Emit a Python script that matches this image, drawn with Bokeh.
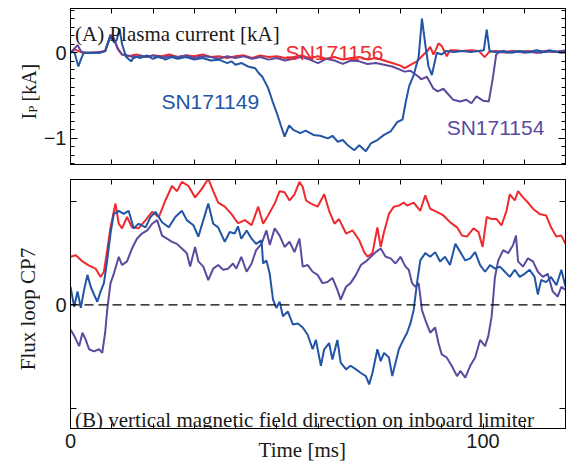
from bokeh.plotting import figure
from bokeh.layouts import column, row
from bokeh.models import Range1d, LinearAxis, FixedTicker, Label, Span
from bokeh.embed import file_html
from bokeh.resources import INLINE

# ---------------- data: (A) plasma current [kA] ----------------
ip_156_t = [0, 1, 2, 3, 5, 7, 8.4, 9.7, 10.5, 11.5, 12.5, 14, 16, 18, 20, 22, 24, 26, 28, 30,
            32, 34, 36, 38, 40, 42, 44, 46, 48, 50, 52, 54, 56, 58, 60, 62, 64, 66, 68, 70,
            72, 74, 76, 78, 80, 81, 82.4, 84, 85.6, 86.5, 87.2, 88, 88.6, 89.2, 90, 91.2, 92,
            93, 95, 97, 99, 100.4, 101.5, 103, 105, 107, 109, 111, 113, 115, 117, 119, 120]
ip_156 = [0.0, 0.04, 0.02, 0.0, 0.0, 0.01, 0.02, 0.21, 0.17, 0.05, -0.02, -0.04, -0.02, -0.05,
          -0.03, -0.04, -0.02, -0.05, -0.03, -0.04, -0.02, -0.05, -0.04, -0.06, -0.04, -0.03,
          -0.06, -0.03, -0.05, -0.04, -0.06, -0.05, -0.03, -0.06, -0.04, -0.07, -0.05, -0.08,
          -0.06, -0.05, -0.08, -0.06, -0.09, -0.12, -0.15, -0.18, -0.14, -0.10, -0.02, 0.02,
          0.07, -0.02, 0.04, 0.11, 0.08, -0.04, 0.03, 0.03, 0.02, 0.03, 0.02, -0.05, 0.01,
          0.02, 0.01, 0.02, 0.01, 0.02, 0.0, 0.02, 0.01, 0.02, 0.0]

ip_149_t = [0, 1, 1.9, 2.5, 3.2, 5, 7, 8.4, 9.7, 10.6, 11.2, 11.9, 12.5, 13.5, 14.7, 15.5, 17,
            18.5, 20, 21.5, 23, 24.5, 26, 28, 30, 32, 34, 36, 38, 39, 40, 41.5, 43, 44.8, 45.5,
            46.5, 47.9, 49, 50.2, 51, 51.9, 53, 54, 55.7, 57, 58.9, 60.5, 62.4, 63.5, 64.8, 66,
            67.2, 68.8, 70, 71.6, 72.8, 74.4, 76, 77.6, 79.2, 80.5, 81.3, 82.1, 83.2, 84.4,
            85.2, 86, 86.8, 87.6, 88.8, 90, 91, 93, 95, 97, 99, 100.2, 100.9, 101.6, 103, 105,
            107, 109, 111, 113, 115, 117, 119, 120]
ip_149 = [0.02, 0.0, -0.16, -0.08, 0.0, 0.0, 0.0, 0.02, 0.19, 0.12, 0.15, 0.28, 0.1, -0.05,
          -0.1, -0.04, -0.06, -0.03, -0.07, -0.04, -0.08, -0.05, -0.07, -0.05, -0.08, -0.06,
          -0.09, -0.08, -0.12, -0.1, -0.14, -0.12, -0.16, -0.18, -0.23, -0.28, -0.41, -0.57,
          -0.73, -0.85, -0.98, -0.85, -0.9, -0.94, -0.91, -0.96, -0.97, -1.0, -0.97, -1.04,
          -1.02, -1.08, -1.14, -1.08, -1.15, -1.06, -1.02, -0.96, -0.92, -0.81, -0.78, -0.57,
          -0.39, -0.26, -0.05, 0.40, 0.1, -0.16, -0.26, 0.0, -0.02, 0.02, 0.01, 0.02, 0.01,
          0.02, 0.03, 0.27, 0.02, 0.01, 0.02, 0.0, 0.02, 0.01, 0.03, 0.01, 0.02, 0.0, 0.01]

ip_154_t = [0, 1.7, 2.5, 3.5, 5, 7, 8.4, 9.7, 10.5, 11.5, 12.5, 14, 15.5, 17, 18.5, 20, 22, 24,
            26, 28, 30, 32, 34, 36, 38, 40, 42, 44, 46, 48, 50, 52, 54, 56, 58, 60, 62, 64, 66,
            68, 70, 72, 74, 76, 78, 80, 81, 82.4, 84.4, 85, 86.4, 88, 89, 90.4, 91.3, 92.8, 94.4,
            96, 97.2, 98.4, 100, 101.4, 102.4, 103.2, 104, 106, 108, 110, 112, 114, 116, 118, 120]
ip_154 = [0.0, 0.09, 0.02, 0.0, 0.0, 0.0, 0.02, 0.21, 0.16, 0.04, -0.02, -0.03, -0.06, -0.03,
          -0.05, -0.03, -0.06, -0.04, -0.05, -0.03, -0.06, -0.04, -0.05, -0.07, -0.04, -0.06,
          -0.04, -0.07, -0.05, -0.08, -0.06, -0.09, -0.07, -0.05, -0.08, -0.12, -0.07, -0.09,
          -0.13, -0.09, -0.1, -0.13, -0.12, -0.14, -0.16, -0.2, -0.22, -0.21, -0.28, -0.31,
          -0.28, -0.42, -0.45, -0.42, -0.47, -0.55, -0.57, -0.55, -0.59, -0.51, -0.56, -0.57,
          -0.29, -0.02, 0.01, 0.0, 0.02, 0.0, 0.01, 0.0, 0.03, 0.01, 0.03]

# ---------------- data: (B) flux loop CP7 ----------------
fl_156_t = [0, 1.3, 2.9, 4.5, 6.1, 7.3, 8.1, 8.9, 9.7, 10.9, 11.7, 12.5, 13.7, 14.9, 16.5, 18.2,
            19.8, 21.4, 23.0, 24.6, 25.8, 27.0, 28.6, 30.2, 31.8, 33.4, 34.6, 35.8, 37.4, 39.0,
            40.6, 42.3, 43.9, 45.5, 46.7, 47.9, 49.5, 50.7, 51.9, 53.1, 54.3, 55.5, 56.3, 57.1,
            58.3, 59.9, 61.5, 62.7, 64.0, 65.1, 66.8, 68.4, 70.0, 71.2, 72.0, 73.2, 74.4, 75.2,
            76.0, 77.2, 78.4, 79.6, 80.8, 81.6, 83.2, 84.8, 86.0, 87.2, 88.8, 90.4, 92.0, 93.7,
            94.9, 96.1, 97.7, 98.9, 99.9, 100.9, 102.1, 103.3, 104.5, 105.7, 106.5, 107.7,
            108.5, 109.7, 110.9, 112.1, 113.7, 115.3, 116.5, 117.8, 119.0, 120.0]
fl_156 = [0.465, 0.48, 0.42, 0.38, 0.35, 0.27, 0.32, 0.53, 0.75, 0.98, 0.785, 0.74, 0.85, 0.75,
          0.74, 0.82, 0.90, 0.85, 1.01, 1.15, 1.10, 1.19, 1.15, 1.04, 1.12, 1.22, 1.10, 0.99,
          0.95, 0.88, 0.79, 0.82, 0.77, 0.95, 0.785, 0.865, 0.98, 1.10, 1.09, 1.01, 1.07, 1.19,
          1.14, 1.01, 0.98, 0.95, 1.07, 0.91, 0.785, 0.83, 0.69, 0.72, 0.625, 0.51, 0.465,
          0.50, 0.75, 0.56, 0.705, 0.88, 0.95, 0.96, 0.99, 0.96, 0.99, 0.91, 1.06, 0.93, 0.90,
          0.865, 0.80, 0.75, 0.67, 0.66, 0.74, 0.705, 0.56, 0.85, 0.83, 0.83, 0.77, 0.91, 1.07,
          1.01, 1.10, 1.04, 0.99, 0.93, 0.88, 0.865, 0.75, 0.66, 0.67, 0.59]

fl_149_t = [0, 0.9, 1.7, 2.5, 3.3, 4.1, 4.9, 5.7, 6.5, 7.3, 8.1, 8.9, 9.7, 10.5, 11.7, 12.9,
            14.1, 15.3, 16.5, 18.2, 19.4, 20.6, 22.2, 23.8, 25.4, 27.0, 28.2, 29.8, 31.0, 32.2,
            33.4, 34.6, 35.8, 37.4, 38.6, 39.8, 40.6, 41.4, 42.7, 43.9, 45.0, 46.3, 46.7, 47.5,
            48.3, 49.1, 49.9, 50.7, 51.5, 52.7, 53.9, 55.1, 56.3, 57.5, 58.7, 59.5, 60.7, 61.5,
            62.7, 63.5, 64.7, 65.5, 66.8, 67.9, 69.2, 70.4, 71.6, 72.4, 73.2, 74.4, 75.2, 76.0,
            77.2, 78.0, 78.8, 79.6, 80.8, 81.6, 82.4, 83.2, 84.0, 84.8, 86.0, 87.2, 88.4, 89.6,
            90.8, 92.0, 93.3, 94.5, 95.7, 96.9, 98.1, 99.3, 100.5, 101.7, 102.9, 104.1, 105.3,
            106.5, 107.7, 108.9, 110.1, 111.3, 112.5, 113.3, 114.1, 115.3, 116.5, 117.8, 119.0,
            120.0]
fl_149 = [0.175, -0.02, 0.13, -0.03, 0.145, 0.29, 0.175, 0.10, 0.03, 0.13, 0.21, 0.43, 0.69,
          0.88, 0.91, 0.88, 0.91, 0.74, 0.785, 0.75, 0.85, 0.90, 0.80, 0.75, 0.85, 0.91, 0.82,
          0.77, 0.66, 0.82, 0.98, 0.785, 0.75, 0.61, 0.705, 0.69, 0.76, 0.64, 0.72, 0.64, 0.59,
          0.625, 0.40, 0.43, 0.30, 0.05, -0.03, 0.03, -0.11, -0.065, -0.19, -0.18, -0.22,
          -0.29, -0.43, -0.34, -0.59, -0.43, -0.37, -0.53, -0.34, -0.56, -0.625, -0.59, -0.625,
          -0.66, -0.69, -0.77, -0.66, -0.43, -0.545, -0.465, -0.51, -0.69, -0.56, -0.43, -0.33,
          -0.27, -0.18, -0.05, 0.21, 0.43, 0.50, 0.465, 0.51, 0.42, 0.465, 0.385, 0.59, 0.51,
          0.43, 0.45, 0.51, 0.385, 0.32, 0.385, 0.35, 0.37, 0.32, 0.27, 0.34, 0.27, 0.30, 0.34,
          0.27, 0.10, 0.24, 0.22, 0.27, 0.19, 0.34, 0.175]

fl_154_t = [0, 0.9, 2.1, 2.9, 3.7, 4.5, 5.7, 6.9, 7.7, 8.4, 8.9, 9.7, 10.5, 11.7, 12.5, 13.7,
            14.9, 16.1, 17.3, 18.6, 19.8, 21.0, 22.2, 23.4, 24.6, 25.8, 27.0, 28.2, 29.0, 30.2,
            31.0, 32.2, 33.4, 34.6, 35.8, 37.0, 38.2, 39.4, 40.2, 41.4, 42.7, 43.9, 45.0, 46.3,
            47.5, 48.3, 49.5, 50.7, 51.9, 53.1, 54.3, 55.5, 56.3, 57.5, 58.7, 59.9, 61.1, 62.3,
            63.5, 64.7, 65.5, 66.8, 67.9, 69.2, 70.4, 71.6, 72.8, 74.0, 75.2, 76.4, 77.6, 78.8,
            80.0, 81.2, 82.0, 82.8, 83.6, 84.4, 85.2, 86.0, 87.2, 88.4, 89.2, 90.0, 91.2, 92.4,
            93.7, 94.5, 95.7, 96.9, 98.1, 99.3, 100.5, 101.3, 102.1, 102.9, 103.7, 104.9, 106.1,
            107.3, 108.0, 108.5, 109.7, 110.9, 112.1, 113.3, 114.5, 115.7, 116.9, 118.1, 119.0,
            120.0]
fl_154 = [-0.24, -0.30, -0.40, -0.27, -0.34, -0.43, -0.45, -0.43, -0.465, -0.27, -0.05, 0.21,
          0.30, 0.465, 0.385, 0.42, 0.545, 0.64, 0.69, 0.72, 0.785, 0.82, 0.67, 0.64, 0.61, 0.59,
          0.545, 0.50, 0.37, 0.56, 0.42, 0.37, 0.24, 0.35, 0.385, 0.34, 0.35, 0.40, 0.35, 0.465,
          0.32, 0.40, 0.53, 0.59, 0.72, 0.58, 0.74, 0.67, 0.56, 0.61, 0.51, 0.64, 0.37, 0.385,
          0.32, 0.29, 0.21, 0.22, 0.26, 0.145, 0.05, 0.175, 0.21, 0.29, 0.385, 0.42, 0.465, 0.51,
          0.545, 0.465, 0.45, 0.40, 0.465, 0.37, 0.34, 0.21, 0.175, 0.21, -0.05, -0.145, -0.27,
          -0.22, -0.37, -0.48, -0.51, -0.59, -0.69, -0.64, -0.705, -0.59, -0.51, -0.34, -0.40,
          -0.30, -0.11, 0.27, 0.43, 0.53, 0.50, 0.58, 0.67, 0.42, 0.37, 0.45, 0.42, 0.32, 0.27,
          0.30, 0.13, 0.08, 0.175, 0.145]

x_ticks = list(range(0, 121, 10))
x_tick_labels = {0: "0", 100: "100"}
ip_ticks = [-1, 0]
ip_tick_labels = {-1: "\u22121", 0: "0"}
fl_ticks = [-1, 0, 1]
fl_tick_labels = {0: "0"}

RED = "#ee2a2e"
BLUE = "#2255a6"
PURPLE = "#5c4a9f"
INK = "#1a1a1a"
SERIF = "Liberation Serif"
SANS = "Liberation Sans"
LW = 2.0

STRIP_W = 40
MAIN_W = 526


def make_fig(height, yr, bt, bb):
    p = figure(width=MAIN_W, height=height, x_range=Range1d(0, 120), y_range=Range1d(*yr),
               output_backend="svg", toolbar_location=None,
               x_axis_location=None, y_axis_location=None,
               min_border_left=28, min_border_right=1, min_border_top=bt, min_border_bottom=bb)
    p.grid.visible = False
    p.outline_line_color = "black"
    p.outline_line_width = 1
    p.background_fill_color = "white"
    p.border_fill_color = "white"
    return p


def add_axis(p, place, ticks, minor, labels, tick_len, minor_len):
    ax = LinearAxis(ticker=FixedTicker(ticks=ticks, minor_ticks=minor))
    ax.major_tick_in = tick_len
    ax.major_tick_out = 0
    ax.minor_tick_in = minor_len
    ax.minor_tick_out = 0
    ax.axis_line_color = "black"
    ax.major_tick_line_color = "black"
    ax.minor_tick_line_color = "black"
    if labels is None:
        ax.major_label_text_font_size = "0px"
        ax.major_label_standoff = 0
        ax.major_label_overrides = {t: "" for t in ticks}
    else:
        ax.major_label_overrides = {t: labels.get(t, "") for t in ticks}
        ax.major_label_text_font = SANS
        ax.major_label_text_font_size = "20px"
        ax.major_label_text_color = INK
        ax.major_label_standoff = 4 if place == "left" else 5
    p.add_layout(ax, place)
    return ax


# ---------------- panel A ----------------
pa = make_fig(171, (-1.306, 0.518), 8, 7)
ip_minor = [round(-1.3 + 0.1 * i, 2) for i in range(19)]
add_axis(pa, "left", ip_ticks, ip_minor, ip_tick_labels, 7, 4)
add_axis(pa, "right", ip_ticks, ip_minor, None, 7, 4)
add_axis(pa, "below", x_ticks, [], None, 5, 0)
add_axis(pa, "above", x_ticks, [], None, 5, 0)

pa.line(ip_156_t, ip_156, line_color=RED, line_width=LW)
pa.line(ip_154_t, ip_154, line_color=PURPLE, line_width=LW)
pa.line(ip_149_t, ip_149, line_color=BLUE, line_width=LW)

pa.add_layout(Label(x=1.09, y=0.218, text="(A) Plasma current [kA]", text_font=SERIF,
                    text_font_size="21px", text_color=INK, text_baseline="alphabetic"))
pa.add_layout(Label(x=52.15, y=0.0, text="SN171156", text_font=SANS, text_font_size="21px",
                    text_color=RED, text_baseline="alphabetic"))
pa.add_layout(Label(x=22.04, y=-0.573, text="SN171149", text_font=SANS, text_font_size="21px",
                    text_color=BLUE, text_baseline="alphabetic"))
pa.add_layout(Label(x=91.19, y=-0.874, text="SN171154", text_font=SANS, text_font_size="21px",
                    text_color=PURPLE, text_baseline="alphabetic"))

# ---------------- panel B ----------------
pb = make_fig(296, (-1.197, 1.213), 8, 39)
add_axis(pb, "left", fl_ticks, [], fl_tick_labels, 6, 0)
add_axis(pb, "right", fl_ticks, [], None, 6, 0)
xb = add_axis(pb, "below", x_ticks, [], x_tick_labels, 5, 0)
add_axis(pb, "above", x_ticks, [], None, 5, 0)
xb.axis_label = "Time [ms]" + "\u00a0" * 6
xb.axis_label_text_font = SERIF
xb.axis_label_text_font_size = "21px"
xb.axis_label_text_font_style = "normal"
xb.axis_label_text_color = INK
xb.axis_label_standoff = -13

pb.add_layout(Span(location=0, dimension="width", line_color="black", line_width=1.2,
                   line_dash="9 5"))
pb.line(fl_156_t, fl_156, line_color=RED, line_width=LW)
pb.line(fl_154_t, fl_154, line_color=PURPLE, line_width=LW)
pb.line(fl_149_t, fl_149, line_color=BLUE, line_width=LW)

pb.add_layout(Label(x=1.09, y=-1.113, text="(B) vertical magnetic field direction on inboard limiter",
                    text_font=SERIF, text_font_size="21px", text_color=INK,
                    text_baseline="alphabetic"))

# ---------------- left strip holding the y-axis titles (pixel coordinates) ----------------
ps = figure(width=STRIP_W, height=467, x_range=Range1d(0, STRIP_W), y_range=Range1d(467, 0),
            output_backend="svg", toolbar_location=None, x_axis_location=None,
            y_axis_location=None, min_border=0)
ps.grid.visible = False
ps.outline_line_color = None
ps.background_fill_color = "white"
ps.border_fill_color = "white"

ps.add_layout(Label(x=28.5, y=119, text="I", text_font=SERIF, text_font_size="20px",
                    text_color=INK, angle=90, angle_units="deg",
                    text_baseline="alphabetic", text_align="left"))
ps.add_layout(Label(x=32.0, y=112.3, text="P", text_font=SERIF, text_font_size="13px",
                    text_color=INK, angle=90, angle_units="deg",
                    text_baseline="alphabetic", text_align="left"))
ps.add_layout(Label(x=28.5, y=101, text="[kA]", text_font=SERIF, text_font_size="20px",
                    text_color=INK, angle=90, angle_units="deg",
                    text_baseline="alphabetic", text_align="left"))
ps.add_layout(Label(x=27.5, y=308.5, text="Flux loop CP7", text_font=SERIF,
                    text_font_size="21px", text_color=INK, angle=90, angle_units="deg",
                    text_baseline="alphabetic", text_align="center"))

layout = row(ps, column(pa, pb, spacing=0), spacing=0)
open("out.html", "w").write(file_html(layout, INLINE))
